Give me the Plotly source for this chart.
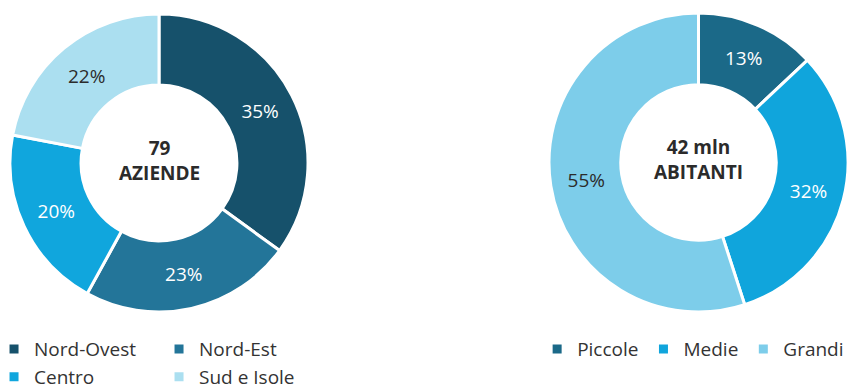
import plotly.graph_objects as go

# Left donut: companies by area
area_labels = ["Nord-Ovest", "Nord-Est", "Centro", "Sud e Isole"]
area_values = [35, 23, 20, 22]
area_colors = ["#16516b", "#237599", "#10a6dd", "#abdff0"]
area_text_colors = ["#ffffff", "#ffffff", "#ffffff", "#2b2b2b"]
area_center = "<b>79<br>AZIENDE</b>"

# Right donut: inhabitants by size
size_labels = ["Piccole", "Medie", "Grandi"]
size_values = [13, 32, 55]
size_colors = ["#1b6988", "#10a5dc", "#7dcdea"]
size_text_colors = ["#ffffff", "#ffffff", "#2b2b2b"]
size_center = "<b>42 mln<br>ABITANTI</b>"

FONT = "Open Sans"
FS = 19
W, H = 853, 388

# domains (paper fractions)
left_dom_x = [10 / W, 308 / W]
left_dom_y = [76 / H, 374 / H]
right_dom_x = [549 / W, 848 / W]
right_dom_y = [76 / H, 375 / H]

fig = go.Figure()
fig.add_trace(go.Pie(
    labels=area_labels, values=area_values, sort=False, direction="clockwise",
    rotation=0, hole=0.523,
    marker=dict(colors=area_colors, line=dict(color="white", width=3)),
    textinfo="percent", textposition="inside", insidetextorientation="horizontal",
    textfont=dict(family=FONT, size=FS, color=area_text_colors),
    domain=dict(x=left_dom_x, y=left_dom_y),
    legend="legend", hoverinfo="label+percent",
))
fig.add_trace(go.Pie(
    labels=size_labels, values=size_values, sort=False, direction="clockwise",
    rotation=0, hole=0.52,
    marker=dict(colors=size_colors, line=dict(color="white", width=3)),
    textinfo="percent", textposition="inside", insidetextorientation="horizontal",
    textfont=dict(family=FONT, size=FS, color=size_text_colors),
    domain=dict(x=right_dom_x, y=right_dom_y),
    legend="legend2", hoverinfo="label+percent",
))

fig.add_annotation(x=sum(left_dom_x) / 2, y=sum(left_dom_y) / 2 + 3 / H, xref="paper", yref="paper",
                   xanchor="center", yanchor="middle",
                   text=area_center, showarrow=False,
                   font=dict(family=FONT, size=FS, color="#2b2b2b"))
fig.add_annotation(x=sum(right_dom_x) / 2, y=sum(right_dom_y) / 2 + 3 / H, xref="paper", yref="paper",
                   xanchor="center", yanchor="middle",
                   text=size_center, showarrow=False,
                   font=dict(family=FONT, size=FS, color="#2b2b2b"))

legend_font = dict(family=FONT, size=FS, color="#333333")
fig.update_layout(
    width=W, height=H,
    margin=dict(l=0, r=0, t=0, b=0, autoexpand=False),
    paper_bgcolor="white", plot_bgcolor="white",
    legend=dict(orientation="h", x=-0.007, xanchor="left", y=0.149, yanchor="top",
                font=legend_font, entrywidth=120, traceorder="normal",
                bgcolor="rgba(0,0,0,0)"),
    legend2=dict(orientation="h", x=0.6297, xanchor="left", y=0.149, yanchor="top",
                 font=legend_font, traceorder="normal", bgcolor="rgba(0,0,0,0)"),
)

fig.write_html("out.html")
